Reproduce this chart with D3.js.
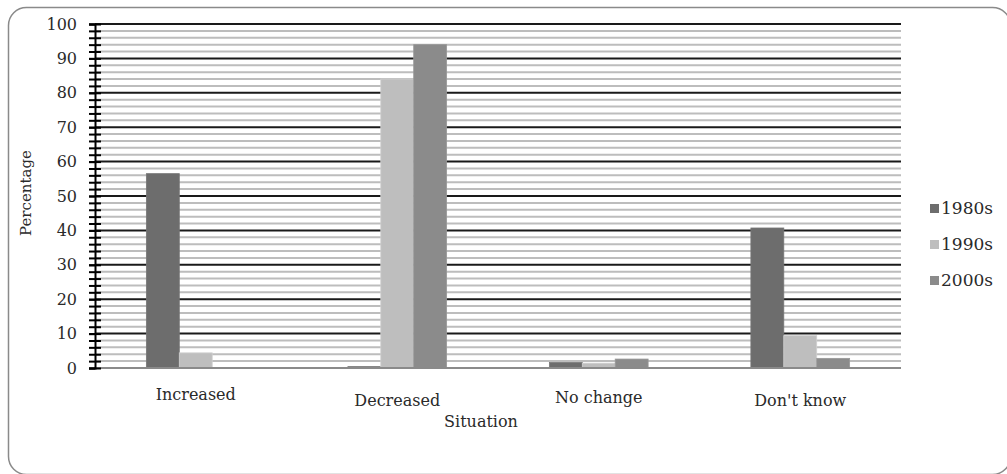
<!DOCTYPE html>
<html>
<head>
<meta charset="utf-8">
<script src="https://cdn.jsdelivr.net/npm/d3@7"></script>
<style>
  body { margin: 0; background: #fff; }
  text { font-family: "DejaVu Serif", serif; fill: #2a2a2a; }
</style>
</head>
<body>
<div id="canvas"></div>
<script>
"use strict"

let svgWidth = 1007;
let svgHeight = 474;

/* Data */
let categories = ["Increased", "Decreased", "No change", "Don't know"];
let seriesNames = ["1980s", "1990s", "2000s"];
let values1980s = [56.5, 0.4, 1.6, 40.7];
let values1990s = [4.4, 84, 1.4, 9.4];
let values2000s = [0, 94, 2.6, 2.8];
let yTicks = [0, 10, 20, 30, 40, 50, 60, 70, 80, 90, 100];
let yMinorTicks = d3.range(0, 101, 2);

let seriesValues = [values1980s, values1990s, values2000s];
let colors = ["#6d6d6d", "#bebebe", "#8b8b8b"];

let plot = {left: 95, right: 901, top: 24, bottom: 368};

let svg = d3.select("#canvas")
    .append("svg")
    .attr("width", svgWidth)
    .attr("height", svgHeight);

/* Outer frame */
svg.append("rect")
    .attr("x", 8.5)
    .attr("y", 7.5)
    .attr("width", 1002)
    .attr("height", 467)
    .attr("rx", 18)
    .attr("fill", "none")
    .attr("stroke", "#8a8a8a")
    .attr("stroke-width", 1.5);

/* Scales */
let xScale = d3.scaleBand()
    .domain(categories)
    .range([plot.left, plot.right]);

let groupWidth = xScale.bandwidth() * 0.49;
let xInner = d3.scaleBand()
    .domain(seriesNames)
    .range([(xScale.bandwidth() - groupWidth) / 2, (xScale.bandwidth() + groupWidth) / 2]);

let yScale = d3.scaleLinear()
    .domain([0, 100])
    .range([plot.bottom, plot.top]);

/* Gridlines: minor grey, major black */
svg.append("g")
    .selectAll("line")
    .data(yMinorTicks.filter(d => d % 10 !== 0))
    .join("line")
    .attr("x1", plot.left)
    .attr("x2", plot.right)
    .attr("y1", d => yScale(d))
    .attr("y2", d => yScale(d))
    .attr("stroke", "#bdbdbd")
    .attr("stroke-width", 2);

svg.append("g")
    .selectAll("line")
    .data(yTicks.filter(d => d > 0))
    .join("line")
    .attr("x1", plot.left)
    .attr("x2", plot.right)
    .attr("y1", d => yScale(d))
    .attr("y2", d => yScale(d))
    .attr("stroke", "#1a1a1a")
    .attr("stroke-width", 2);

/* Bars */
seriesNames.forEach(function(name, i){
    svg.append("g")
        .selectAll("rect")
        .data(categories.map((c, j) => ({cat: c, value: seriesValues[i][j]})))
        .join("rect")
        .attr("x", d => xScale(d.cat) + xInner(name))
        .attr("y", d => yScale(d.value))
        .attr("width", xInner.bandwidth())
        .attr("height", d => yScale(0) - yScale(d.value))
        .attr("fill", colors[i])
        .attr("stroke", d3.color(colors[i]).brighter(0.25))
        .attr("stroke-width", 0.8);
});

/* x axis line */
svg.append("line")
    .attr("x1", plot.left)
    .attr("x2", plot.right)
    .attr("y1", yScale(0))
    .attr("y2", yScale(0))
    .attr("stroke", "#8a8a8a")
    .attr("stroke-width", 2);

/* y axis: minor crossing ticks + labels */
let yAxisMinor = svg.append("g")
    .attr("transform", `translate(${plot.left},0)`)
    .call(d3.axisLeft(yScale).tickValues(yMinorTicks).tickSize(6).tickFormat(""));
yAxisMinor.select(".domain").remove();
yAxisMinor.selectAll(".tick line")
    .attr("x1", 6)
    .attr("stroke", "#000")
    .attr("stroke-width", 2);

let yAxis = svg.append("g")
    .attr("transform", `translate(${plot.left},0)`)
    .call(d3.axisLeft(yScale).tickValues(yTicks).tickSize(6).tickPadding(12));
yAxis.select(".domain")
    .attr("stroke", "#000")
    .attr("stroke-width", 2);
yAxis.selectAll(".tick line")
    .attr("stroke", "#000")
    .attr("stroke-width", 2);
yAxis.selectAll(".tick text")
    .style("font-family", "DejaVu Serif")
    .style("font-size", "16px")
    .attr("fill", "#2a2a2a");

/* Category labels */
let labelShift = [0, 6, 3, 6];
svg.append("g")
    .selectAll("text")
    .data(categories)
    .join("text")
    .attr("x", d => xScale(d) + xScale.bandwidth() / 2)
    .attr("y", (d, i) => 400 + labelShift[i])
    .attr("text-anchor", "middle")
    .style("font-size", "16px")
    .text(d => d);

/* Axis titles */
svg.append("text")
    .attr("x", 481)
    .attr("y", 427)
    .attr("text-anchor", "middle")
    .style("font-size", "16px")
    .text("Situation");

svg.append("text")
    .attr("transform", "translate(31,193) rotate(-90)")
    .attr("text-anchor", "middle")
    .style("font-size", "15px")
    .text("Percentage");

/* Legend */
seriesNames.forEach(function(name, i){
    let cy = 208 + i * 36;
    svg.append("rect")
        .attr("x", 930)
        .attr("y", cy - 4)
        .attr("width", 9)
        .attr("height", 9)
        .attr("fill", colors[i]);
    svg.append("text")
        .attr("x", 941)
        .attr("y", cy + 6)
        .style("font-size", "17px")
        .text(name);
});
</script>
</body>
</html>
